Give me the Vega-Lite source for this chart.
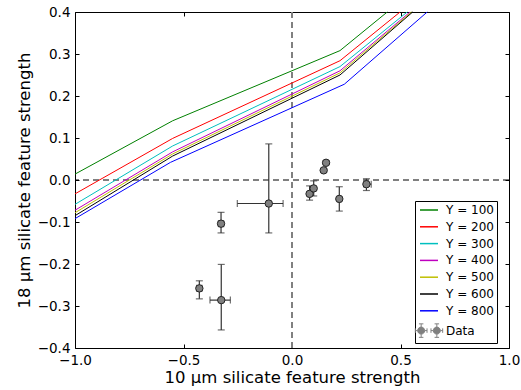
{
  "$schema": "https://vega.github.io/schema/vega-lite/v6.json",
  "width": 434,
  "height": 336,
  "autosize": "none",
  "padding": {"left": 75, "top": 12, "right": 12, "bottom": 42},
  "background": "white",
  "config": {
    "font": "DejaVu Sans",
    "view": {"stroke": "black", "strokeWidth": 1},
    "scale": {"continuousPadding": 0},
    "axis": {
      "domain": false,
      "grid": false,
      "labelFlush": false,
      "labelOverlap": false,
      "tickColor": "black",
      "tickSize": -4,
      "labelPadding": 9,
      "labelFont": "DejaVu Sans",
      "labelFontSize": 13.5,
      "labelColor": "black",
      "titleFont": "DejaVu Sans",
      "titleFontSize": 16.5,
      "titleFontWeight": "normal",
      "titleColor": "black"
    },
    "legend": {
      "labelFont": "DejaVu Sans",
      "labelFontSize": 12,
      "labelColor": "black"
    }
  },
  "datasets": {
    "models": [
      {"series": "Y = 100", "x": -1.0, "y": 0.014},
      {"series": "Y = 100", "x": -0.55, "y": 0.141},
      {"series": "Y = 100", "x": 0.221, "y": 0.308},
      {"series": "Y = 100", "x": 0.439, "y": 0.4},
      {"series": "Y = 200", "x": -1.0, "y": -0.033},
      {"series": "Y = 200", "x": -0.55, "y": 0.099},
      {"series": "Y = 200", "x": 0.221, "y": 0.284},
      {"series": "Y = 200", "x": 0.498, "y": 0.4},
      {"series": "Y = 300", "x": -1.0, "y": -0.058},
      {"series": "Y = 300", "x": -0.55, "y": 0.081},
      {"series": "Y = 300", "x": 0.221, "y": 0.270},
      {"series": "Y = 300", "x": 0.531, "y": 0.4},
      {"series": "Y = 400", "x": -1.0, "y": -0.072},
      {"series": "Y = 400", "x": -0.55, "y": 0.067},
      {"series": "Y = 400", "x": 0.221, "y": 0.260},
      {"series": "Y = 400", "x": 0.544, "y": 0.4},
      {"series": "Y = 500", "x": -1.0, "y": -0.078},
      {"series": "Y = 500", "x": -0.55, "y": 0.062},
      {"series": "Y = 500", "x": 0.221, "y": 0.255},
      {"series": "Y = 500", "x": 0.551, "y": 0.4},
      {"series": "Y = 600", "x": -1.0, "y": -0.085},
      {"series": "Y = 600", "x": -0.55, "y": 0.057},
      {"series": "Y = 600", "x": 0.221, "y": 0.250},
      {"series": "Y = 600", "x": 0.556, "y": 0.4},
      {"series": "Y = 800", "x": -1.0, "y": -0.092},
      {"series": "Y = 800", "x": -0.56, "y": 0.042},
      {"series": "Y = 800", "x": 0.241, "y": 0.228},
      {"series": "Y = 800", "x": 0.623, "y": 0.4}
    ],
    "obs": [
      {"series": "Data", "x": -0.107, "y": -0.056, "xlo": -0.252, "xhi": -0.041, "ylo": -0.126, "yhi": 0.086},
      {"series": "Data", "x": -0.327, "y": -0.104, "xlo": -0.339, "xhi": -0.315, "ylo": -0.126, "yhi": -0.077},
      {"series": "Data", "x": 0.081, "y": -0.033, "xlo": 0.075, "xhi": 0.087, "ylo": -0.048, "yhi": -0.014},
      {"series": "Data", "x": 0.100, "y": -0.020, "xlo": 0.094, "xhi": 0.106, "ylo": -0.038, "yhi": -0.002},
      {"series": "Data", "x": 0.146, "y": 0.023, "xlo": 0.142, "xhi": 0.150, "ylo": 0.019, "yhi": 0.027},
      {"series": "Data", "x": 0.157, "y": 0.041, "xlo": 0.153, "xhi": 0.161, "ylo": 0.037, "yhi": 0.045},
      {"series": "Data", "x": 0.218, "y": -0.045, "xlo": 0.212, "xhi": 0.224, "ylo": -0.074, "yhi": -0.016},
      {"series": "Data", "x": 0.343, "y": -0.010, "xlo": 0.332, "xhi": 0.365, "ylo": -0.025, "yhi": 0.003},
      {"series": "Data", "x": -0.427, "y": -0.258, "xlo": -0.439, "xhi": -0.415, "ylo": -0.283, "yhi": -0.240},
      {"series": "Data", "x": -0.326, "y": -0.286, "xlo": -0.378, "xhi": -0.284, "ylo": -0.357, "yhi": -0.201}
    ]
  },
  "layer": [
    {
      "data": {"values": [{}]},
      "mark": {"type": "rule", "color": "black", "strokeWidth": 1, "strokeDash": [6, 4]},
      "encoding": {"y": {"datum": 0, "type": "quantitative", "axis": null}}
    },
    {
      "data": {"values": [{}]},
      "mark": {"type": "rule", "color": "#808080", "strokeWidth": 2, "strokeDash": [6, 4]},
      "encoding": {"x": {"datum": 0, "type": "quantitative", "axis": null}}
    },
    {
      "data": {"name": "models"},
      "mark": {"type": "line", "strokeWidth": 1},
      "encoding": {
        "x": {"field": "x", "type": "quantitative", "scale": {"domain": [-1, 1], "nice": false, "zero": false, "padding": 0},
              "axis": {"orient": "bottom", "values": [-1, -0.5, 0, 0.5, 1], "format": ".1f", "title": "10 μm silicate feature strength", "titlePadding": 2.5}},
        "y": {"field": "y", "type": "quantitative", "scale": {"domain": [-0.4, 0.4], "nice": false, "zero": false, "padding": 0},
              "axis": {"orient": "left", "values": [-0.4, -0.3, -0.2, -0.1, 0, 0.1, 0.2, 0.3, 0.4], "format": ".1f", "title": "18 μm silicate feature strength", "titlePadding": 5}},
        "color": {
          "field": "series", "type": "nominal",
          "scale": {
            "domain": ["Y = 100", "Y = 200", "Y = 300", "Y = 400", "Y = 500", "Y = 600", "Y = 800", "Data"],
            "range": ["#008000", "#ff0000", "#00bfbf", "#bf00bf", "#bfbf00", "#000000", "#0000ff", "#808080"]
          },
          "legend": {
            "title": null,
            "orient": "none",
            "legendX": 340,
            "legendY": 189,
            "padding": 3,
            "symbolOffset": 5,
            "symbolType": "stroke",
            "symbolSize": 324,
            "symbolStrokeWidth": 1.5,
            "labelOffset": 11,
            "rowPadding": 4.8,
            "strokeColor": "black",
            "fillColor": "white",
            "cornerRadius": 0,
            "encode": {
              "symbols": {
                "update": {
                  "shape": {"signal": "datum.value === 'Data' ? 'M-0.48,0A0.39,0.39 0 1,1 -1.26,0A0.39,0.39 0 1,1 -0.48,0ZM-0.87,-0.75V-0.39M-0.87,0.39V0.75M-1.12,-0.75H-0.62M-1.12,0.75H-0.62M-1.52,0H-1.26M-0.48,0H-0.22M-1.52,-0.25V0.25M-0.22,-0.25V0.25M1.26,0A0.39,0.39 0 1,1 0.48,0A0.39,0.39 0 1,1 1.26,0ZM0.87,-0.75V-0.39M0.87,0.39V0.75M0.62,-0.75H1.12M0.62,0.75H1.12M0.22,0H0.48M1.26,0H1.52M0.22,-0.25V0.25M1.52,-0.25V0.25' : 'stroke'"},
                  "fill": {"signal": "datum.value === 'Data' ? '#7a7a7a' : 'transparent'"},
                  "stroke": [
                    {"test": "datum.value === 'Data'", "value": "#111111"},
                    {"scale": "color", "field": "value"}
                  ],
                  "strokeWidth": {"signal": "datum.value === 'Data' ? 1 : 1.5"},
                  "opacity": {"value": 1}
                }
              }
            }
          }
        }
      }
    },
    {
      "data": {"name": "obs"},
      "mark": {"type": "errorbar", "ticks": true, "size": 7, "thickness": 1.2, "color": "#333333"},
      "encoding": {
        "x": {"field": "x", "type": "quantitative", "axis": null},
        "y": {"field": "ylo", "type": "quantitative", "axis": null},
        "y2": {"field": "yhi"}
      }
    },
    {
      "data": {"name": "obs"},
      "mark": {"type": "errorbar", "ticks": true, "size": 7, "thickness": 1.2, "color": "#333333"},
      "encoding": {
        "y": {"field": "y", "type": "quantitative", "axis": null},
        "x": {"field": "xlo", "type": "quantitative", "axis": null},
        "x2": {"field": "xhi"}
      }
    },
    {
      "data": {"name": "obs"},
      "mark": {"type": "point", "filled": true, "size": 55, "stroke": "#222222", "strokeWidth": 1, "opacity": 1},
      "encoding": {
        "x": {"field": "x", "type": "quantitative", "axis": null},
        "y": {"field": "y", "type": "quantitative", "axis": null},
        "color": {"field": "series", "type": "nominal"}
      }
    },
    {
      "data": {"name": "obs"},
      "mark": {"type": "point", "opacity": 0},
      "encoding": {
        "x": {"field": "x", "type": "quantitative", "axis": {"orient": "top", "labels": false, "title": null, "values": [-1, -0.5, 0, 0.5, 1]}},
        "y": {"field": "y", "type": "quantitative", "axis": {"orient": "right", "labels": false, "title": null, "values": [-0.4, -0.3, -0.2, -0.1, 0, 0.1, 0.2, 0.3, 0.4]}}
      }
    }
  ]
}
